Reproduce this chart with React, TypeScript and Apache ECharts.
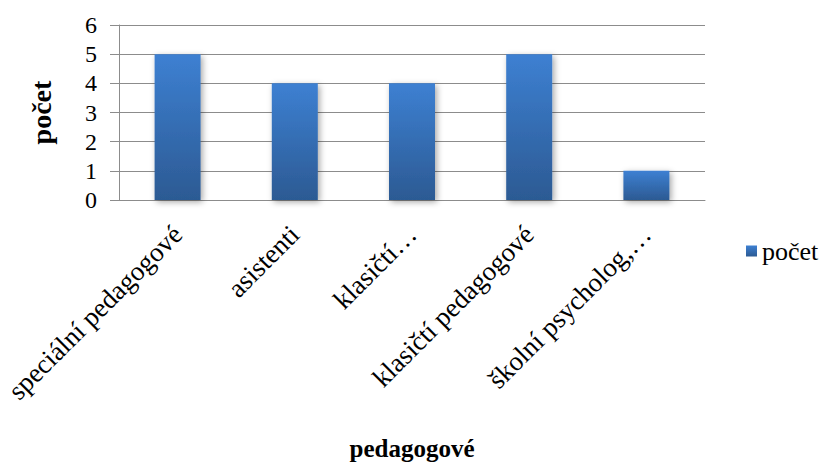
import React, { useEffect, useRef } from "react";
import * as echarts from "echarts";

const categories = [
  "speciální pedagogové",
  "asistenti",
  "klasičtí…",
  "klasičtí pedagogové",
  "školní psycholog,…",
];
const values = [5, 4, 4, 5, 1];
const seriesName = "počet";
const yAxisName = "počet";
const xAxisName = "pedagogové";
const yMin = 0;
const yMax = 6;
const yInterval = 1;

const FONT = "'Liberation Serif', 'Times New Roman', serif";

export default function App() {
  const ref = useRef<HTMLDivElement>(null);
  useEffect(() => {
    if (!ref.current) return;
    const chart = echarts.init(ref.current, null, { renderer: "svg" });
    const barColor = new echarts.graphic.LinearGradient(0, 0, 0, 1, [
      { offset: 0, color: "#3d80d2" },
      { offset: 1, color: "#2c5a93" },
    ]);
    chart.setOption({
      animation: false,
      backgroundColor: "#ffffff",
      textStyle: { fontFamily: FONT },
      grid: {
        left: 119,
        right: 119,
        top: 25,
        bottom: 268,
        containLabel: false,
        outerBoundsMode: "none",
      },
      legend: {
        left: 741,
        top: 233,
        itemWidth: 11,
        itemHeight: 11,
        itemGap: 10,
        icon: "rect",
        textStyle: { fontFamily: FONT, fontSize: 26, color: "#000" },
        data: [{ name: seriesName, icon: "rect" }],
      },
      xAxis: {
        type: "category",
        data: categories,
        name: xAxisName,
        nameLocation: "middle",
        nameGap: 236,
        nameTextStyle: { fontFamily: FONT, fontSize: 25, fontWeight: "bold", color: "#000" },
        axisLine: { show: true, lineStyle: { color: "#8c8c8c", width: 1 } },
        axisTick: { show: false },
        axisLabel: {
          rotate: 45,
          interval: 0,
          margin: 30,
          fontFamily: FONT,
          fontSize: 27,
          color: "#000",
        },
      },
      yAxis: {
        type: "value",
        min: yMin,
        max: yMax,
        interval: yInterval,
        name: yAxisName,
        nameLocation: "middle",
        nameGap: 64,
        nameRotate: 90,
        nameTextStyle: { fontFamily: FONT, fontSize: 28, fontWeight: "bold", color: "#000" },
        axisLine: { show: true, lineStyle: { color: "#8c8c8c", width: 1 } },
        axisTick: { show: true, inside: false, length: 9, lineStyle: { color: "#8c8c8c" } },
        axisLabel: { margin: 22, fontFamily: FONT, fontSize: 24, color: "#000" },
        splitLine: { show: true, lineStyle: { color: "#8c8c8c", width: 1 } },
      },
      series: [
        {
          name: seriesName,
          type: "bar",
          data: values,
          barWidth: 46,
          itemStyle: {
            color: barColor,
            shadowBlur: 6,
            shadowColor: "rgba(0,0,0,0.35)",
            shadowOffsetX: 2,
            shadowOffsetY: 2,
          },
        },
      ],
    });
    return () => chart.dispose();
  }, []);
  return (
    <div
      ref={ref}
      style={{ position: "fixed", left: 0, top: 0, width: 824, height: 468, background: "#fff" }}
    />
  );
}
